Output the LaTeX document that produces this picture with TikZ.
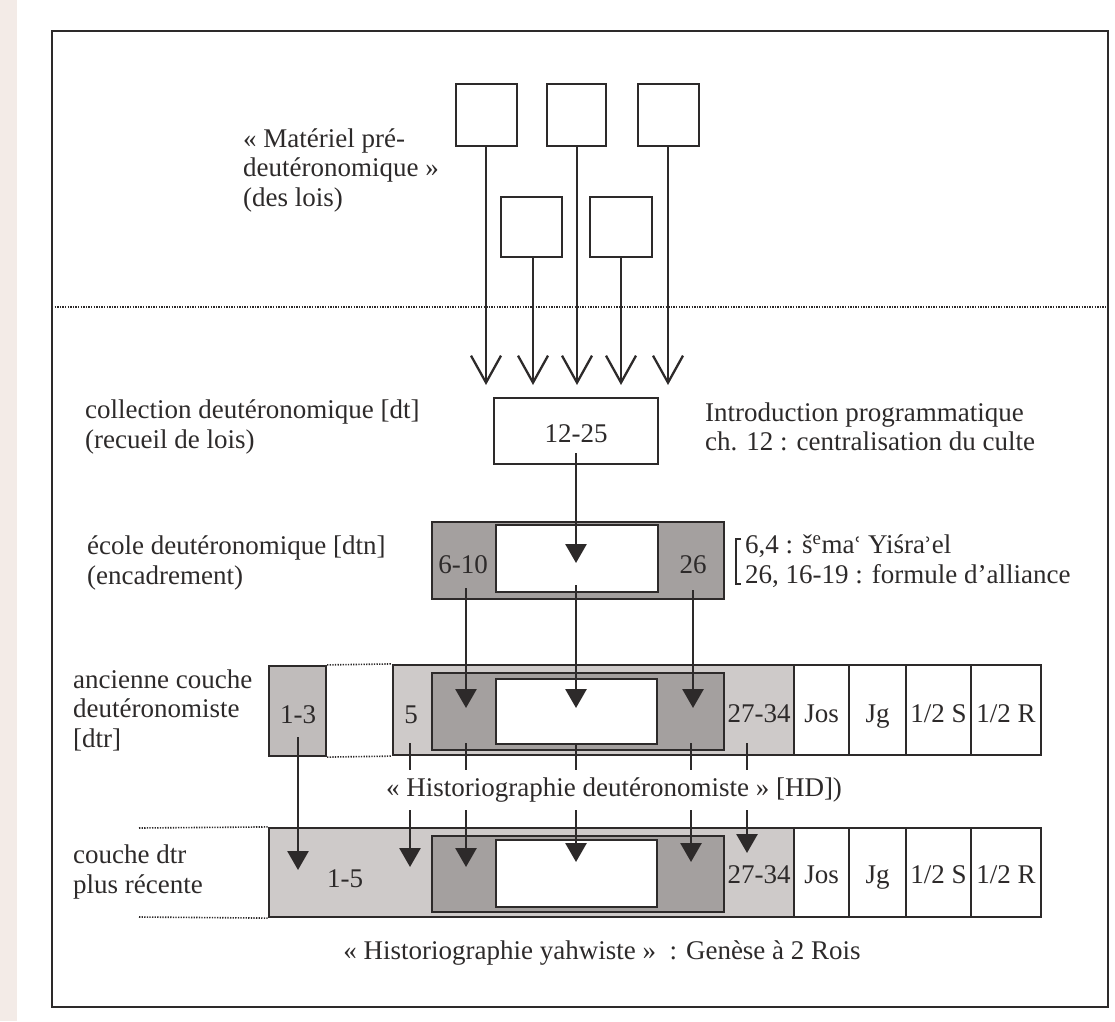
\documentclass[tikz,border=0pt]{standalone}
\usepackage{fontspec}
\setmainfont{Liberation Serif}
\newfontfamily\dvs{DejaVu Serif}
\usetikzlibrary{arrows.meta,fit}
\definecolor{ink}{RGB}{45,42,42}
\definecolor{darkg}{RGB}{164,160,159}
\definecolor{lightg}{RGB}{206,202,201}
\definecolor{midg}{RGB}{192,188,187}
\definecolor{margintint}{RGB}{243,235,231}
\begin{document}
\begin{tikzpicture}[x=1pt,y=-1pt,
  every node/.style={font=\fontsize{27}{29.5}\selectfont, text=ink},
  lab/.style={inner sep=0pt, align=left, anchor=west},
  txt/.style={inner sep=0pt, anchor=base},
  srcbox/.style={draw=ink, line width=2.3pt, inner sep=0pt},
  area/.style={draw=ink, line width=2.2pt, inner sep=0pt},
  dots/.style={draw=ink, line width=1.6pt, dash pattern=on 1.3pt off 1.3pt},
  openarr/.style={draw=ink, line width=2.3pt, -{Straight Barb[length=27pt,width=30pt]}},
  fullarr/.style={draw=ink, line width=2.8pt, -{Triangle[length=19pt,width=21pt]}},
]
\useasboundingbox (0,0) rectangle (1115,1021);
\fill[margintint] (0,0) rectangle (17,1021);

% frame and dotted separator
\node[area, line width=2.8pt, fit={(52,31)(1108,1007)}] (frame) {};
\coordinate (sepL) at (52,307);
\coordinate (sepR) at (1108,307);
\draw[dots] (sepL) -- (sepR);

% pre-deuteronomic material
\node[lab] (lmat) at (243,170) {« Matériel pré-\\deutéronomique »\\(des lois)};
\node[srcbox, fit={(456,84)(517,146)}] (s1) {};
\node[srcbox, fit={(547,84)(606,146)}] (s2) {};
\node[srcbox, fit={(638,84)(699,146)}] (s3) {};
\node[srcbox, fit={(501,197)(562,257)}] (s4) {};
\node[srcbox, fit={(590,197)(652,257)}] (s5) {};
\coordinate (t1) at (486,385);
\coordinate (t4) at (533,385);
\coordinate (t2) at (577,385);
\coordinate (t5) at (621,385);
\coordinate (t3) at (668,385);
\draw[openarr] (s1.south -| t1) -- (t1);
\draw[openarr] (s4.south -| t4) -- (t4);
\draw[openarr] (s2.south -| t2) -- (t2);
\draw[openarr] (s5.south -| t5) -- (t5);
\draw[openarr] (s3.south -| t3) -- (t3);

% collection dt
\node[lab] (ldt) at (85,427) {collection deutéronomique [dt]\\(recueil de lois)};
\node[area, fill=white, fit={(494,398)(658,464)}] (dt) {};
\node[txt] (dttx) at (576,442) {12-25};
\node[lab] (lintro) at (705,427) {Introduction programmatique\\ch. 12 : centralisation du culte};

% ecole dtn
\node[lab] (ldtn) at (87,563) {école deutéronomique [dtn]\\(encadrement)};
\node[area, fill=darkg, fit={(432,522)(724,599)}] (dtn) {};
\node[area, fill=white, fit={(496,525)(658,592)}] (dtnin) {};
\node[txt] (t610) at (463,573) {6-10};
\node[txt] (t26) at (693,573) {26};
\draw[ink, line width=1.8pt] (741,539) -- (736,539) -- (736,584) -- (741,584);
\node[lab] (lbr) at (745,561) {6,4 : š\textsuperscript{e}ma{\dvs\fontsize{22}{26}\selectfont ʿ} Yiśra{\dvs\fontsize{22}{26}\selectfont ʾ}el\\26, 16-19 : formule d’alliance};

% ancienne couche dtr (row 3)
\node[lab] (ldtr) at (73,710) {ancienne couche\\deutéronomiste\\{}[dtr]};
\node[area, fill=midg, fit={(269,666)(326,756)}] (b13) {};
\node[area, fill=lightg, fit={(393,665)(794,755)}] (r3) {};
\node[area, fill=darkg, fit={(432,673)(724,750)}] (r3d) {};
\node[area, fill=white, fit={(496,679)(657,744)}] (r3w) {};
\node[area, fill=white, fit={(794,665)(849,755)}] (c3a) {};
\node[area, fill=white, fit={(849,665)(906,755)}] (c3b) {};
\node[area, fill=white, fit={(906,665)(971,755)}] (c3c) {};
\node[area, fill=white, fit={(971,665)(1041,755)}] (c3d) {};
\draw[dots] (b13.north east) -- (r3.north west);
\draw[dots] (b13.south east) -- (r3.south west);
\node[txt] at (298,723) {1-3};
\node[txt] at (411,723) {5};
\node[txt] at (759,722) {27-34};
\node[txt] at (c3a.center |- 0,722) {Jos};
\node[txt] at (c3b.center |- 0,722) {Jg};
\node[txt] at (c3c.center |- 0,722) {1/2 S};
\node[txt] at (c3d.center |- 0,722) {1/2 R};

% couche dtr plus recente (row 4)
\node[lab] (lrec) at (73,872) {couche dtr\\plus récente};
\coordinate (d4a) at (139,828);
\coordinate (d4b) at (139,917);
\node[area, fill=lightg, fit={(269,828)(794,917)}] (r4) {};
\node[area, fill=darkg, fit={(432,836)(724,912)}] (r4d) {};
\node[area, fill=white, fit={(496,840)(657,907)}] (r4w) {};
\node[area, fill=white, fit={(794,828)(849,917)}] (c4a) {};
\node[area, fill=white, fit={(849,828)(906,917)}] (c4b) {};
\node[area, fill=white, fit={(906,828)(971,917)}] (c4c) {};
\node[area, fill=white, fit={(971,828)(1041,917)}] (c4d) {};
\draw[dots] (d4a) -- (r4.north west);
\draw[dots] (d4b) -- (r4.south west);
\node[txt] at (345,887) {1-5};
\node[txt] at (759,883) {27-34};
\node[txt] at (c4a.center |- 0,883) {Jos};
\node[txt] at (c4b.center |- 0,883) {Jg};
\node[txt] at (c4c.center |- 0,883) {1/2 S};
\node[txt] at (c4d.center |- 0,883) {1/2 R};

% arrows dt -> dtn -> row 3
\coordinate (a0s) at (576,453);
\coordinate (a0e) at (576,563);
\draw[fullarr] (a0s) -- (a0e);
\coordinate (a1s) at (466,588);
\coordinate (a1e) at (466,708);
\coordinate (a2s) at (576,585);
\coordinate (a2e) at (576,708);
\coordinate (a3s) at (693,590);
\coordinate (a3e) at (693,708);
\draw[fullarr] (a1s) -- (a1e);
\draw[fullarr] (a2s) -- (a2e);
\draw[fullarr] (a3s) -- (a3e);

% arrows row 3 -> row 4
\coordinate (b0s) at (298,737);
\coordinate (b0e) at (298,870);
\coordinate (b1s) at (410,743);
\coordinate (b1e) at (410,867);
\coordinate (b2s) at (466,743);
\coordinate (b2e) at (466,867);
\coordinate (b3s) at (576,743);
\coordinate (b3e) at (576,862);
\coordinate (b4s) at (691,743);
\coordinate (b4e) at (691,862);
\coordinate (b5s) at (747,743);
\coordinate (b5e) at (747,853);
\draw[fullarr] (b0s) -- (b0e);
\draw[fullarr] (b1s) -- (b1e);
\draw[fullarr] (b2s) -- (b2e);
\draw[fullarr] (b3s) -- (b3e);
\draw[fullarr] (b4s) -- (b4e);
\draw[fullarr] (b5s) -- (b5e);

\node[fill=white, inner xsep=2pt, inner ysep=8pt] (hd) at (614,790) {« Historiographie deutéronomiste » [HD])};
\node[inner sep=0pt] (hy) at (602,953) {« Historiographie yahwiste » \ : Genèse à 2 Rois};
\end{tikzpicture}
\end{document}
